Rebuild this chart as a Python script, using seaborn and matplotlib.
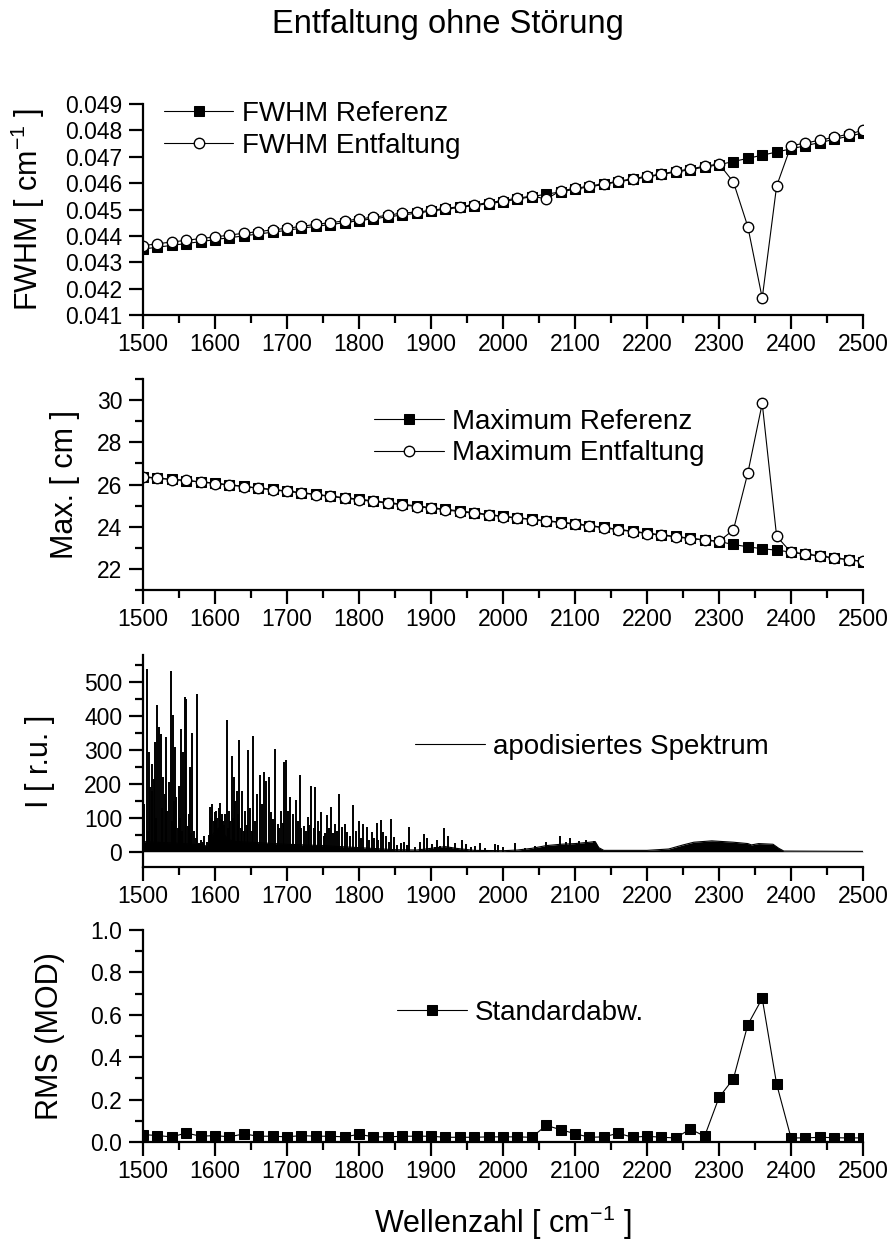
import numpy as np
import pandas as pd
import matplotlib
matplotlib.use("Agg")
import matplotlib.pyplot as plt
from matplotlib.ticker import MultipleLocator, FormatStrFormatter
import seaborn as sns

# Wellenzahl-Raster der Fits
wellenzahl = list(range(1500, 2501, 20))

fwhm_referenz = [
    0.04350, 0.04357, 0.04364, 0.04371, 0.04378, 0.04386, 0.04393, 0.04400, 0.04407, 0.04414,
    0.04421, 0.04429, 0.04436, 0.04443, 0.04450, 0.04458, 0.04465, 0.04472, 0.04479, 0.04486,
    0.04494, 0.04501, 0.04508, 0.04515, 0.04522, 0.04530, 0.04539, 0.04549, 0.04558, 0.04567,
    0.04577, 0.04586, 0.04595, 0.04605, 0.04614, 0.04623, 0.04633, 0.04642, 0.04651, 0.04661,
    0.04670, 0.04682, 0.04694, 0.04706, 0.04718, 0.04730, 0.04742, 0.04754, 0.04766, 0.04778,
    0.04790,
]
fwhm_entfaltung = [
    0.04363, 0.04370, 0.04377, 0.04383, 0.04390, 0.04396, 0.04403, 0.04410, 0.04416, 0.04423,
    0.04429, 0.04436, 0.04444, 0.04450, 0.04457, 0.04464, 0.04471, 0.04478, 0.04487, 0.04490,
    0.04497, 0.04504, 0.04511, 0.04518, 0.04526, 0.04534, 0.04543, 0.04551, 0.04540, 0.04571,
    0.04580, 0.04589, 0.04598, 0.04607, 0.04617, 0.04626, 0.04635, 0.04645, 0.04654, 0.04664,
    0.04673, 0.04604, 0.04435, 0.04164, 0.04589, 0.04742, 0.04752, 0.04763, 0.04774, 0.04786,
    0.04800,
]

max_referenz = [
    26.35, 26.30, 26.25, 26.19, 26.13, 26.07, 25.99, 25.92, 25.84, 25.77,
    25.70, 25.62, 25.54, 25.46, 25.38, 25.31, 25.23, 25.15, 25.07, 24.99,
    24.91, 24.83, 24.75, 24.67, 24.58, 24.50, 24.43, 24.36, 24.29, 24.22,
    24.15, 24.06, 23.97, 23.88, 23.79, 23.70, 23.62, 23.54, 23.46, 23.38,
    23.30, 23.16, 23.05, 22.96, 22.89, 22.80, 22.71, 22.62, 22.53, 22.44,
    22.35,
]
max_entfaltung = [
    26.38, 26.31, 26.24, 26.20, 26.12, 26.05, 25.98, 25.90, 25.83, 25.75,
    25.68, 25.60, 25.52, 25.44, 25.36, 25.28, 25.20, 25.12, 25.04, 24.96,
    24.88, 24.80, 24.72, 24.64, 24.56, 24.48, 24.41, 24.34, 24.27, 24.20,
    24.12, 24.04, 23.95, 23.86, 23.77, 23.68, 23.60, 23.52, 23.44, 23.37,
    23.31, 23.85, 26.55, 29.85, 23.55, 22.79, 22.70, 22.61, 22.52, 22.44,
    22.36,
]

rms_std = [
    0.035, 0.030, 0.024, 0.042, 0.027, 0.030, 0.024, 0.038, 0.027, 0.027,
    0.024, 0.030, 0.027, 0.027, 0.024, 0.036, 0.024, 0.024, 0.027, 0.027,
    0.027, 0.022, 0.022, 0.022, 0.024, 0.024, 0.024, 0.022, 0.078, 0.058,
    0.039, 0.022, 0.024, 0.041, 0.022, 0.027, 0.022, 0.019, 0.061, 0.027,
    0.210, 0.298, 0.553, 0.677, 0.273, 0.019, 0.019, 0.022, 0.020, 0.019,
    0.019,
]

# apodisiertes Spektrum: einzelne Linien (Lage, Hoehe) ...
linie_pos = [
    1501, 1502, 1505, 1506.5, 1508, 1510, 1512, 1513, 1515, 1517, 1518.5, 1520, 1522,
    1524.5, 1526, 1528, 1530, 1532, 1534, 1536, 1538.5, 1540, 1541, 1543, 1544, 1546,
    1548, 1549.5, 1551, 1553, 1554.5, 1556, 1558, 1560, 1562, 1563.5, 1565, 1567,
    1568.5, 1571, 1573, 1575.5, 1578, 1580, 1583, 1585, 1589, 1591, 1593, 1594.5, 1596,
    1598, 1599.5, 1601, 1603, 1605, 1606.5, 1608, 1609.5, 1611, 1613, 1614, 1616, 1617.5,
    1619, 1621, 1623, 1624.5, 1626, 1628, 1630, 1632, 1634, 1636, 1638, 1640, 1642, 1644,
    1646, 1649, 1651, 1653, 1656, 1659, 1662, 1665, 1668, 1671, 1674.5, 1678, 1681, 1684,
    1687, 1689, 1691, 1694, 1696, 1699, 1701, 1704, 1708, 1712, 1715, 1717.5, 1720, 1723,
    1726, 1729, 1731, 1734, 1737, 1739, 1743, 1745, 1747.5, 1751, 1753, 1756, 1758, 1761,
    1764, 1766, 1770, 1772.6, 1776, 1780.6, 1784, 1788, 1792, 1796, 1800, 1803, 1806,
    1810.6, 1814, 1817.6, 1821, 1824.5, 1827, 1830, 1834, 1837.5, 1841, 1844, 1848.6,
    1853, 1858, 1862.5, 1866, 1869.4, 1878, 1884.7, 1890, 1895, 1901, 1905, 1909, 1913,
    1918, 1923, 1928, 1934, 1943, 1949, 1955.6, 1961.6, 1967.6, 1975, 1989.4, 1992.6,
    2000, 2017, 2030, 2045, 2060, 2079, 2088, 2093, 2105, 2115, 2126,
]
linie_hoehe = [
    90, 140, 538, 60, 294, 190, 259, 180, 215, 323, 100, 432, 368,
    348, 130, 220, 170, 338, 120, 205, 534, 90, 402, 150, 309, 160,
    70, 195, 100, 363, 60, 294, 457, 449, 75, 110, 251, 55,
    351, 60, 40, 466, 25, 35, 30, 45, 30, 50, 131, 100, 141,
    90, 116, 120, 100, 130, 143, 95, 110, 92, 80, 110, 388, 70,
    121, 90, 281, 100, 220, 150, 180, 110, 328, 70, 180, 60, 121, 80,
    299, 130, 60, 340, 90, 171, 225, 140, 235, 208, 220, 116, 95, 304,
    82, 70, 121, 85, 264, 269, 120, 161, 111, 151, 90, 225, 70, 77,
    60, 102, 80, 195, 70, 191, 92, 60, 116, 47, 55, 107, 70, 133,
    55, 82, 60, 169, 72, 82, 57, 45, 138, 62, 90, 40, 82,
    74, 35, 57, 40, 84, 35, 94, 57, 47, 30, 95, 42,
    20, 25, 30, 20, 72, 15, 30, 52, 39, 23, 15, 35, 18,
    70, 47, 15, 25, 35, 23, 15, 18, 25, 12, 23, 20,
    13, 25, 12, 18, 28, 47, 30, 39, 32, 35, 33,
]
# ... und dichter Untergrund (Huellkurve)
band_pos = [
    1500, 1520, 1550, 1585, 1590, 1595, 1600, 1605, 1610, 1615, 1620, 1630, 1650, 1700,
    1750, 1800, 1850, 1880, 1900, 1920, 1935, 1960, 2000, 2020, 2040, 2060, 2080, 2100,
    2120, 2128, 2133, 2140, 2200, 2230, 2250, 2265, 2290, 2320, 2340, 2345, 2355, 2375,
    2383, 2390, 2500,
]
band_hoehe = [
    30, 28, 25, 20, 12, 45, 60, 70, 60, 45, 35, 30, 28, 22,
    18, 12, 6, 5, 10, 15, 10, 4, 3, 5, 10, 18, 22, 24,
    28, 30, 12, 4, 4, 8, 20, 28, 32, 28, 24, 20, 24, 22,
    10, 2, 1,
]

x_ticks = list(range(1500, 2501, 100))

sns.set_style("ticks")
plt.rcParams['font.family'] = ['Liberation Sans', 'DejaVu Sans']
plt.rcParams['mathtext.fontset'] = 'custom'
plt.rcParams['mathtext.rm'] = 'Liberation Sans'
plt.rcParams['mathtext.default'] = 'regular'
plt.rcParams.update({
    'axes.linewidth': 1.6,
    'xtick.major.size': 10, 'xtick.minor.size': 5.5,
    'ytick.major.size': 10, 'ytick.minor.size': 5.5,
    'xtick.major.width': 1.6, 'xtick.minor.width': 1.6,
    'ytick.major.width': 1.6, 'ytick.minor.width': 1.6,
    'xtick.labelsize': 16.5, 'ytick.labelsize': 16.5,
    'xtick.major.pad': 3, 'ytick.major.pad': 5,
    'axes.labelsize': 22,
    'axes.edgecolor': 'black',
    'axes.labelcolor': 'black',
    'text.color': 'black',
    'xtick.color': 'black', 'ytick.color': 'black',
})

fig = plt.figure(figsize=(8.96, 12.43), dpi=100)
ax1 = fig.add_axes([0.1596, 0.7466, 0.8036, 0.1697])
ax2 = fig.add_axes([0.1596, 0.5253, 0.8036, 0.1697])
ax3 = fig.add_axes([0.1596, 0.3025, 0.8036, 0.1706])
ax4 = fig.add_axes([0.1596, 0.0813, 0.8036, 0.1706])

quadrat = dict(marker='s', markersize=6.5, markerfacecolor='black', markeredgecolor='black',
               color='black', linewidth=0.8)
kreis = dict(marker='o', markersize=7.5, markerfacecolor='white', markeredgecolor='black',
             markeredgewidth=1.0, color='black', linewidth=0.8)

legend_kw = dict(frameon=False, fontsize=20, loc='center left', borderpad=0, borderaxespad=0,
                 handlelength=2.5, handletextpad=0.3, labelspacing=0.2, numpoints=1)

# --- FWHM ---
sns.lineplot(x=wellenzahl, y=fwhm_referenz, ax=ax1, label='FWHM Referenz', **quadrat)
sns.lineplot(x=wellenzahl, y=fwhm_entfaltung, ax=ax1, label='FWHM Entfaltung', **kreis)
ax1.set_ylim(0.041, 0.049)
ax1.yaxis.set_major_locator(MultipleLocator(0.001))
ax1.yaxis.set_major_formatter(FormatStrFormatter('%.3f'))
ax1.set_ylabel('FWHM [ cm$^{-1}$ ]')
ax1.yaxis.set_label_coords(-0.133, 0.5)
ax1.legend(bbox_to_anchor=(0.029, 0.877), **legend_kw)

# --- Maximum ---
sns.lineplot(x=wellenzahl, y=max_referenz, ax=ax2, label='Maximum Referenz', **quadrat)
sns.lineplot(x=wellenzahl, y=max_entfaltung, ax=ax2, label='Maximum Entfaltung', **kreis)
ax2.set_ylim(21, 31)
ax2.yaxis.set_major_locator(MultipleLocator(2))
ax2.yaxis.set_minor_locator(MultipleLocator(1))
ax2.set_ylabel('Max. [ cm ]')
ax2.yaxis.set_label_coords(-0.0875, 0.5)
ax2.legend(bbox_to_anchor=(0.321, 0.723), **legend_kw)

# --- Spektrum ---
sns.lineplot(x=band_pos, y=band_hoehe, ax=ax3, color='black', linewidth=0.8,
             label='apodisiertes Spektrum')
ax3.fill_between(band_pos, 0, band_hoehe, color='black', linewidth=0)
ax3.vlines(linie_pos, 0, linie_hoehe, color='black', linewidth=1.4)
ax3.set_ylim(-45, 580)
ax3.yaxis.set_major_locator(MultipleLocator(100))
ax3.yaxis.set_minor_locator(MultipleLocator(50))
ax3.set_ylabel('I [ r.u. ]')
ax3.yaxis.set_label_coords(-0.122, 0.5)
ax3.legend(bbox_to_anchor=(0.378, 0.566), **legend_kw)

# --- RMS ---
sns.lineplot(x=wellenzahl, y=rms_std, ax=ax4, label='Standardabw.', **quadrat)
ax4.set_ylim(0, 1.0)
ax4.yaxis.set_major_locator(MultipleLocator(0.2))
ax4.yaxis.set_minor_locator(MultipleLocator(0.1))
ax4.yaxis.set_major_formatter(FormatStrFormatter('%.1f'))
ax4.set_ylabel('RMS (MOD)')
ax4.yaxis.set_label_coords(-0.108, 0.5)
ax4.legend(bbox_to_anchor=(0.353, 0.608), **legend_kw)
ax4.set_xlabel('Wellenzahl [ cm$^{-1}$ ]')
ax4.xaxis.set_label_coords(0.5, -0.29)

for ax in (ax1, ax2, ax3, ax4):
    ax.set_xlim(1500, 2500)
    ax.set_xticks(x_ticks)
    ax.xaxis.set_minor_locator(MultipleLocator(50))
    ax.tick_params(which='both', direction='out')
    sns.despine(ax=ax)

fig.text(0.5, 1 - 25 / 1243, 'Entfaltung ohne Störung', ha='center', va='center', fontsize=23.5)

fig.savefig('out.png', dpi=100)
